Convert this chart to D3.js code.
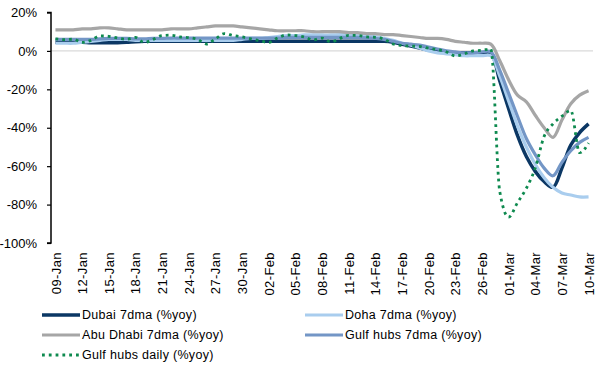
<!DOCTYPE html>
<html>
<head>
<meta charset="utf-8">
<script src="https://cdn.jsdelivr.net/npm/d3@7"></script>
<style>
  html, body { margin: 0; padding: 0; background: #ffffff; }
  svg { display: block; font-family: "Liberation Sans", Arial, sans-serif; }
</style>
</head>
<body>
<svg id="chart" width="613" height="373"></svg>
<script>
const dates = [
  "09-Jan","10-Jan","11-Jan","12-Jan","13-Jan","14-Jan","15-Jan","16-Jan","17-Jan","18-Jan",
  "19-Jan","20-Jan","21-Jan","22-Jan","23-Jan","24-Jan","25-Jan","26-Jan","27-Jan","28-Jan",
  "29-Jan","30-Jan","31-Jan","01-Feb","02-Feb","03-Feb","04-Feb","05-Feb","06-Feb","07-Feb",
  "08-Feb","09-Feb","10-Feb","11-Feb","12-Feb","13-Feb","14-Feb","15-Feb","16-Feb","17-Feb",
  "18-Feb","19-Feb","20-Feb","21-Feb","22-Feb","23-Feb","24-Feb","25-Feb","26-Feb","27-Feb",
  "28-Feb","01-Mar","02-Mar","03-Mar","04-Mar","05-Mar","06-Mar","07-Mar","08-Mar","09-Mar","10-Mar"
];
const tickLabels = ["09-Jan","12-Jan","15-Jan","18-Jan","21-Jan","24-Jan","27-Jan","30-Jan","02-Feb","05-Feb",
  "08-Feb","11-Feb","14-Feb","17-Feb","20-Feb","23-Feb","26-Feb","01-Mar","04-Mar","07-Mar","10-Mar"];
const yTicks = [20, 0, -20, -40, -60, -80, -100];

const dubai = [4.5,4.5,4.5,4.5,4.3, 4.3,4.3,4.3,4.5,4.8,5,
  5,5,5,5,5,5,5,5,5,5,
  5,5,5,5,5,5,5,5,5,5,
  5,5,5,5,5,5,
  5,4.5,3.5,2.5,1.5,0.5,0,-0.5,-1,-1,-1,-1,
  -1,-15.5,-30,-44,-55,-62.7,-68,-71,-61,-49,-42.5,-38];
const doha = [4,4,4,4.5, 5,5.5,6,6,6,
  5.5,5.5,5.5,5.5,5.5,5.5,5.5,5.5,5.5,5.5,5.5,5.5,
  6,6.5,6.5,7,7.5,8,8,
  8.3,8.3,8.3,8.3,8.5,8.5,8.3,8,7.5,
  6.5,5.5,4,3,1.5,0,-1,-1.5,-2,-2.5,-2.5,-2.5,
  -2.5,-13,-26,-39,-50,-59,-66,-71,-74,-75,-76,-76];
const abuDhabi = [11,11,11,11.5,11.5,12,
  12,11.5,11,11,11,
  11,11,11.5,11.5,11.5,
  12,12.5,13,13,13,12.5,12,
  11.5,11,10.5,10.5,10.5,
  10.5,10,10,10,10,9.5,
  9.5,9,9,8.5,8.5,8,7.5,
  7,6.5,6.5,6,5,4.5,4,4,
  3.5,-5,-15,-23,-26.5,-33.5,-40,-45,-36,-27.5,-23,-20.7];
const gulfHubs = [6,6,6,6,6,6.3,6.5,6.5,6.5,6.3,6.3,
  6.5,6.5,6.7,6.7,6.7,6.7,6.7,6.7,6.7,6.7,
  6.7,6.7,6.7,6.7,6.7,7,7,7,7,7,
  7,7,7,7,6.8,6.5,
  6,5,4,3.5,3,2,1,0,-0.5,-1,-1,-0.5,
  -0.5,-10,-22,-34,-45.6,-54,-61,-65,-58,-52,-47.6,-45];
const gulfDaily = [6.3,5.9,6.1,4.4,5.5,7.8,7.6,6.7,6.1,7.0,
  4.4,6.0,8.0,8.2,7.3,6.9,6.0,3.6,6.2,9.0,
  8.0,7.3,6.3,5.2,4.4,6.7,8.3,8.0,7.3,5.7,
  6.7,4.7,6.5,8.1,8.1,7.3,7.1,6.1,3.6,2.8,
  2.5,2.3,1.4,0.7,-0.5,-2.6,-1.6,0,0.3,1,
  -73,-86.5,-79,-71.5,-61,-44.5,-38,-34,-31,-53,-48];

const seriesNames = ["Dubai 7dma (%yoy)","Doha 7dma (%yoy)","Abu Dhabi 7dma (%yoy)","Gulf hubs 7dma (%yoy)","Gulf hubs daily (%yoy)"];
const seriesValues = [dubai, doha, abuDhabi, gulfHubs, gulfDaily];
const seriesColors = ["#0b3764","#a9cdee","#a6a6a6","#7396c6","#0e8a4f"];
const seriesWidths = [3.5, 3.2, 3.2, 3.2, 2.8];
const seriesDash = [null, null, null, null, "2.8 4"];

const svg = d3.select("#chart");
const x = d3.scalePoint().domain(dates).range([51, 593]).padding(0.5);
const y = d3.scaleLinear().domain([-100, 20]).range([243, 12.5]);

// zero line
svg.append("line")
  .attr("x1", 51).attr("x2", 593)
  .attr("y1", y(0)).attr("y2", y(0))
  .attr("stroke", "#d0d0d0").attr("stroke-width", 1);

// y axis
const yAxis = d3.axisLeft(y).tickValues(yTicks).tickSize(4).tickPadding(10)
  .tickFormat(d => d + "%");
const gy = svg.append("g").attr("transform", "translate(51,0)").call(yAxis);
gy.select(".domain").attr("stroke", "#000").attr("stroke-width", 1.5).attr("d", `M-4,${y(20)}H0V${y(-100)}H-4`);
gy.selectAll(".tick line").attr("stroke", "#000").attr("stroke-width", 1.2);
gy.selectAll(".tick text").attr("font-size", 13).attr("fill", "#000")
  .attr("font-family", "'Liberation Sans', Arial, sans-serif");

// x labels
const gx = svg.append("g");
gx.selectAll("text").data(tickLabels).enter().append("text")
  .attr("transform", d => `translate(${x(d) + 0.5},252) rotate(-90)`)
  .attr("text-anchor", "end")
  .attr("dy", "0.35em")
  .attr("font-size", 13)
  .attr("letter-spacing", 0.4)
  .attr("fill", "#000")
  .text(d => d);

// lines
const smooth = d3.line()
  .x((d, i) => x(dates[i]))
  .y(d => y(d))
  .curve(d3.curveCatmullRom.alpha(0.5));
const mono = d3.line()
  .x((d, i) => x(dates[i]))
  .y(d => y(d))
  .curve(d3.curveMonotoneX);

seriesValues.forEach((vals, k) => {
  const gen = k === 4 ? mono : smooth;
  const p = svg.append("path")
    .attr("d", gen(vals))
    .attr("fill", "none")
    .attr("stroke", seriesColors[k])
    .attr("stroke-width", seriesWidths[k])
    .attr("stroke-linejoin", "round");
  if (seriesDash[k]) p.attr("stroke-dasharray", seriesDash[k]);
});

// legend
const legendPos = [[42, 315], [305, 315], [42, 335], [305, 335], [42, 355]];
seriesNames.forEach((name, k) => {
  const [lx, ly] = legendPos[k];
  const s = svg.append("line")
    .attr("x1", lx).attr("x2", lx + 38)
    .attr("y1", ly).attr("y2", ly)
    .attr("stroke", seriesColors[k])
    .attr("stroke-width", seriesWidths[k]);
  if (seriesDash[k]) s.attr("stroke-dasharray", seriesDash[k]);
  svg.append("text")
    .attr("x", lx + 40).attr("y", ly)
    .attr("dy", "0.35em")
    .attr("font-size", 12.5)
    .attr("letter-spacing", 0.3)
    .attr("fill", "#000")
    .text(name);
});
</script>
</body>
</html>
